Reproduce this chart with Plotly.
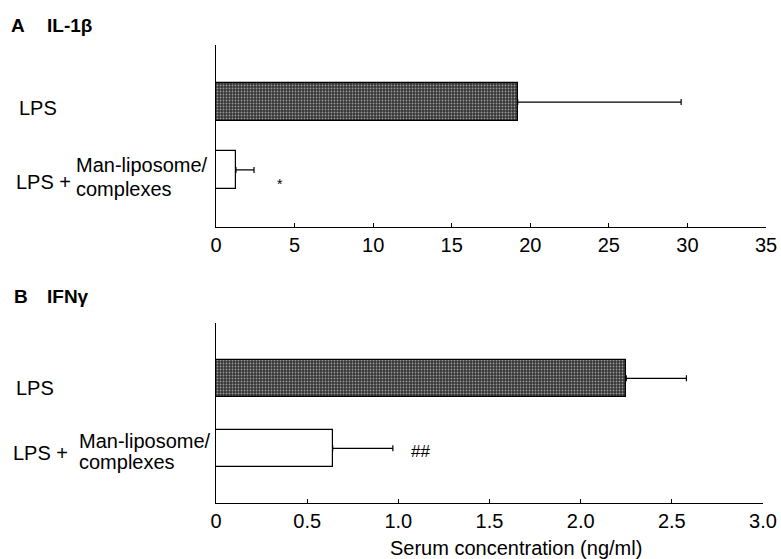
import plotly.graph_objects as go

# Serum cytokine levels (ng/ml), mean and upper error
groups = ["LPS + Man-liposome/complexes", "LPS"]
il1b_mean = [1.27, 19.2]
il1b_err = [1.15, 10.4]
ifng_mean = [0.64, 2.25]
ifng_err = [0.33, 0.33]

il1b_ticks = [0, 5, 10, 15, 20, 25, 30, 35]
il1b_ticktext = ["0", "5", "10", "15", "20", "25", "30", "35"]
ifng_ticks = [0, 0.5, 1.0, 1.5, 2.0, 2.5, 3.0]
ifng_ticktext = ["0", "0.5", "1.0", "1.5", "2.0", "2.5", "3.0"]

FONT = "Liberation Sans, Arial, Helvetica, sans-serif"
FS = 20
ypos = [0, 1]

def bar_styles():
    # white bar for the treated group, dark stippled bar for LPS alone
    return dict(
        color=["white", "#353535"],
        line=dict(color="black", width=1.2),
        pattern=dict(shape=["", "."], fgcolor="#9a9a9a",
                     size=3, solidity=0.3, fillmode="overlay"),
    )

fig = go.Figure()
fig.add_trace(go.Bar(
    x=il1b_mean, y=ypos, orientation="h", width=0.56,
    marker=bar_styles(),
    error_x=dict(type="data", symmetric=False, array=il1b_err,
                 arrayminus=[0, 0], color="black", thickness=1.2, width=3),
    xaxis="x", yaxis="y", showlegend=False,
))
fig.add_trace(go.Bar(
    x=ifng_mean, y=ypos, orientation="h", width=0.53,
    marker=bar_styles(),
    error_x=dict(type="data", symmetric=False, array=ifng_err,
                 arrayminus=[0, 0], color="black", thickness=1.2, width=3),
    xaxis="x2", yaxis="y2", showlegend=False,
))

axis_common = dict(
    showline=True, linecolor="black", linewidth=1.3, ticks="inside",
    ticklen=4, tickcolor="black", showgrid=False, zeroline=False,
    automargin=False,
    tickfont=dict(family=FONT, size=FS, color="black"),
)
yaxis_common = dict(
    showline=True, linecolor="black", linewidth=1.3, automargin=False,
    showticklabels=False, ticks="", showgrid=False, zeroline=False,
)

fig.update_layout(
    template="none",
    width=781, height=559,
    margin=dict(l=0, r=0, t=0, b=0, pad=0),
    paper_bgcolor="white", plot_bgcolor="white",
    font=dict(family=FONT, color="black", size=FS),
    bargap=0,
    xaxis=dict(domain=[216/781, 766/781], range=[0, 35], anchor="y",
               tickvals=il1b_ticks, ticktext=il1b_ticktext, **axis_common),
    yaxis=dict(domain=[1-227/559, 1-45/559], range=[-0.84, 1.84], anchor="x",
               **yaxis_common),
    xaxis2=dict(domain=[216/781, 763/781], range=[0, 3.0], anchor="y2",
                tickvals=ifng_ticks, ticktext=ifng_ticktext, **axis_common),
    yaxis2=dict(domain=[1-503/559, 1-323/559], range=[-0.78, 1.79], anchor="x2",
                **yaxis_common),
)

ann = []

def label(text, xref, yref, x, y, size=FS, anchor="left", bold=False):
    ann.append(dict(text=f"<b>{text}</b>" if bold else text,
                    xref=xref, yref=yref, x=x, y=y,
                    xanchor=anchor, yanchor="middle", showarrow=False,
                    borderpad=0, font=dict(family=FONT, size=size, color="black")))

# panel headings
label("A", "paper", "paper", 10/781, 1-26/559, size=19, bold=True)
label("IL-1β", "paper", "paper", 46/781, 1-26/559, size=19, bold=True)
label("B", "paper", "paper", 13/781, 1-296/559, size=19, bold=True)
label("IFNγ", "paper", "paper", 46/781, 1-296/559, size=19, bold=True)

# group labels left of each panel
label(groups[1], "paper", "y", 18/781, ypos[1] - 0.09)
label("LPS +", "paper", "y", 15/781, ypos[0] - 0.18)
label("Man-liposome/", "paper", "y", 75/781, ypos[0] + 0.07)
label("complexes", "paper", "y", 75/781, ypos[0] - 0.28)

label(groups[1], "paper", "y2", 15/781, ypos[1] - 0.14)
label("LPS +", "paper", "y2", 12/781, ypos[0] - 0.065)
label("Man-liposome/", "paper", "y2", 78/781, ypos[0] + 0.10)
label("complexes", "paper", "y2", 78/781, ypos[0] - 0.19)

# significance markers
label("*", "x", "y", 4.1, -0.2, size=14, anchor="center")
label("##", "x2", "y2", 1.12, -0.05, size=17, anchor="center")

# shared x-axis title
label("Serum concentration (ng/ml)", "paper", "paper", 516/781, 1-548/559,
      anchor="center")

fig.update_layout(annotations=ann)
fig.write_html("out.html")
